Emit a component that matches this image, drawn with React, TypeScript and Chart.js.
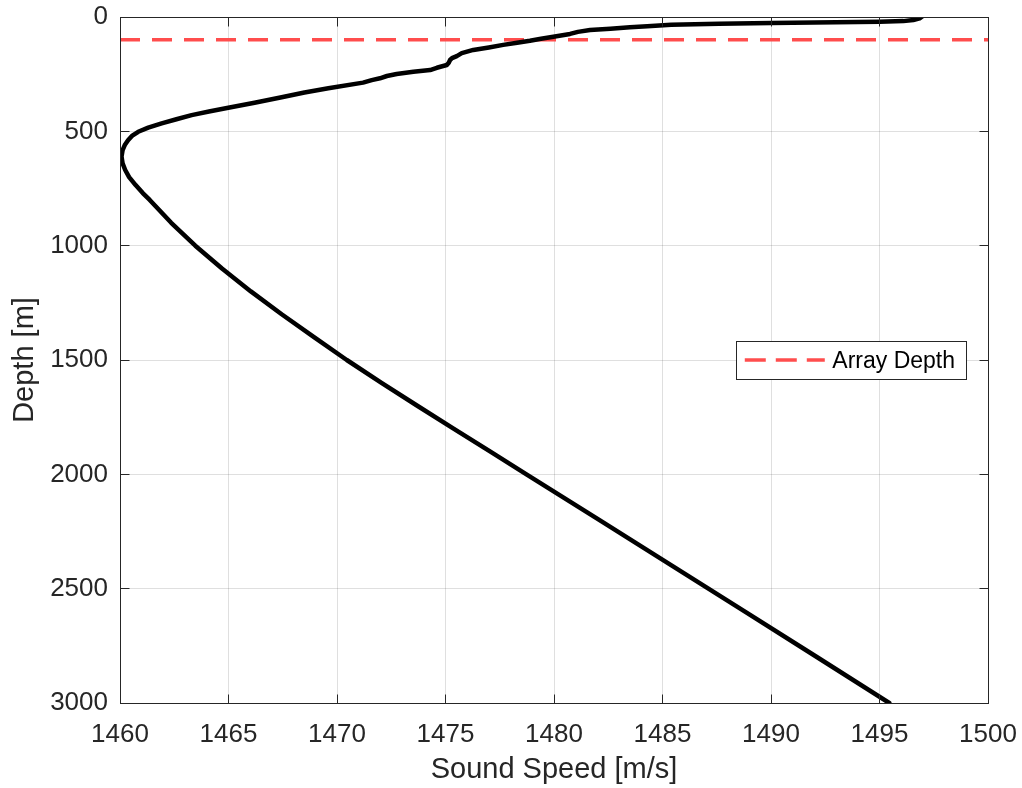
import React, { useEffect, useRef } from "react";
import { Chart, registerables } from "chart.js";

Chart.register(...registerables);

// ---- data ----
const depths = [
  0, 6, 13, 18, 21, 24, 26, 30, 34, 40, 45, 51, 57, 65, 74, 86, 95, 104, 113, 122,
  133, 144, 158, 171, 180, 188, 200, 210, 222, 232, 239, 249, 258, 268, 276, 287,
  312, 330, 351, 375, 397, 413, 429, 447, 465, 484, 502, 520, 538, 560, 582, 611,
  640, 669, 700, 735, 770, 800, 900, 1000, 1100, 1200, 1300, 1400, 1500, 1600, 1700,
  1800, 1900, 2000, 2200, 2400, 2600, 2800, 3000,
];
const soundSpeeds = [
  1496.94, 1496.85, 1496.56, 1496.1, 1495.0, 1492.0, 1490.0, 1487.6, 1485.4, 1484.3,
  1483.5, 1482.6, 1481.66, 1481.1, 1480.74, 1479.97, 1479.4, 1478.89, 1478.3, 1477.66,
  1477.0, 1476.28, 1475.75, 1475.52, 1475.3, 1475.21, 1475.15, 1475.06, 1474.6, 1474.29,
  1473.52, 1472.75, 1472.3, 1471.98, 1471.6, 1471.2, 1469.6, 1468.5, 1467.45, 1466.2,
  1464.99, 1464.1, 1463.3, 1462.6, 1461.92, 1461.3, 1460.84, 1460.55, 1460.38, 1460.22,
  1460.12, 1460.07, 1460.12, 1460.24, 1460.42, 1460.72, 1461.05, 1461.37, 1462.36, 1463.47,
  1464.7, 1466.03, 1467.45, 1468.94, 1470.45, 1472.05, 1473.7, 1475.37, 1477.05, 1478.73,
  1482.1, 1485.45, 1488.8, 1492.13, 1495.45,
];
const arrayDepth = 100;
const arraySpan = [1460, 1500];
const xTickValues = [1460, 1465, 1470, 1475, 1480, 1485, 1490, 1495, 1500];
const yTickValues = [0, 500, 1000, 1500, 2000, 2500, 3000];
const xTitle = "Sound Speed [m/s]";
const yTitle = "Depth [m]";
const profileLabel = "Sound Speed Profile";
const arrayLabel = "Array Depth";

// ---- styles ----
const FONT = "'Liberation Sans', Arial, Helvetica, sans-serif";
const AXIS = "#262626";
const GRID = "rgba(38,38,38,0.15)";
const RED = "#ff4d4d";
const TICK_LEN = 9;

const al = (p: number) => Math.round(p - 0.5) + 0.5;

const noPad = (s: any) => {
  s.paddingTop = 0;
  s.paddingBottom = 0;
  s.paddingLeft = 0;
  s.paddingRight = 0;
};

const boxPlugin = {
  id: "matlabBox",
  afterDatasetsDraw(chart: any) {
    const { ctx, chartArea, scales } = chart;
    const L = al(chartArea.left);
    const R = al(chartArea.right);
    const T = al(chartArea.top);
    const B = al(chartArea.bottom);
    ctx.save();
    ctx.strokeStyle = AXIS;
    ctx.lineWidth = 1;
    ctx.setLineDash([]);
    ctx.beginPath();
    scales.x.ticks.forEach((t: any) => {
      const px = al(scales.x.getPixelForValue(t.value));
      ctx.moveTo(px, B);
      ctx.lineTo(px, B - TICK_LEN);
      ctx.moveTo(px, T);
      ctx.lineTo(px, T + TICK_LEN);
    });
    scales.y.ticks.forEach((t: any) => {
      const py = al(scales.y.getPixelForValue(t.value));
      ctx.moveTo(L, py);
      ctx.lineTo(L + TICK_LEN, py);
      ctx.moveTo(R, py);
      ctx.lineTo(R - TICK_LEN, py);
    });
    ctx.stroke();
    ctx.strokeRect(L, T, R - L, B - T);
    ctx.restore();
  },
};

const legendPlugin = {
  id: "insideLegend",
  afterDraw(chart: any) {
    const { ctx, chartArea } = chart;
    const ds = chart.data.datasets[1];
    ctx.save();
    ctx.font = `23px ${FONT}`;
    const tw = ctx.measureText(ds.label).width;
    const padL = 8.5;
    const sample = 80;
    const gap = 7.5;
    const padR = 11;
    const w = padL + sample + gap + tw + padR;
    const h = 38;
    const right = chartArea.right - 22;
    const cy = (chartArea.top + chartArea.bottom) / 2;
    const x0 = right - w;
    const y0 = cy - h / 2;
    ctx.fillStyle = "#ffffff";
    ctx.fillRect(x0, y0, w, h);
    ctx.strokeStyle = AXIS;
    ctx.lineWidth = 1;
    ctx.strokeRect(al(x0), al(y0), Math.round(w), Math.round(h));
    ctx.strokeStyle = ds.borderColor;
    ctx.lineWidth = ds.borderWidth;
    ctx.setLineDash([21, 10]);
    ctx.beginPath();
    ctx.moveTo(x0 + padL, cy);
    ctx.lineTo(x0 + padL + sample, cy);
    ctx.stroke();
    ctx.setLineDash([]);
    ctx.fillStyle = "#000000";
    ctx.textAlign = "left";
    ctx.textBaseline = "middle";
    ctx.fillText(ds.label, x0 + padL + sample + gap, cy + 2);
    ctx.restore();
  },
};

export default function App() {
  const canvasRef = useRef<HTMLCanvasElement | null>(null);

  useEffect(() => {
    const canvas = canvasRef.current;
    if (!canvas) return;
    const profile = depths.map((d, i) => ({ x: soundSpeeds[i], y: d }));
    const arrayLine = arraySpan.map((x) => ({ x, y: arrayDepth }));

    const chart = new Chart(canvas, {
      type: "scatter",
      data: {
        datasets: [
          {
            label: profileLabel,
            data: profile,
            showLine: true,
            borderColor: "#000000",
            backgroundColor: "#000000",
            borderWidth: 4.5,
            pointRadius: 0,
            borderJoinStyle: "round",
            borderCapStyle: "round",
            tension: 0,
          },
          {
            label: arrayLabel,
            data: arrayLine,
            showLine: true,
            borderColor: RED,
            backgroundColor: RED,
            borderWidth: 3.5,
            borderDash: [20, 12],
            pointRadius: 0,
          },
        ],
      },
      options: {
        responsive: false,
        animation: false,
        devicePixelRatio: 1,
        layout: { padding: { top: 17, right: 34, bottom: 0, left: 0 } },
        plugins: {
          legend: { display: false },
          tooltip: { enabled: false },
        },
        events: [],
        scales: {
          x: {
            type: "linear",
            min: arraySpan[0],
            max: arraySpan[1],
            afterBuildTicks: (s: any) => {
              s.ticks = xTickValues.map((v) => ({ value: v }));
            },
            afterFit: (s: any) => {
              s.height = 85;
              noPad(s);
            },
            ticks: {
              color: AXIS,
              font: { family: FONT, size: 26 },
              padding: 16,
              maxRotation: 0,
              autoSkip: false,
              callback: (v: any) => String(v),
            },
            grid: { color: GRID, lineWidth: 1, drawTicks: false },
            border: { display: false },
            title: {
              display: true,
              text: xTitle,
              color: AXIS,
              font: { family: FONT, size: 29 },
              padding: { top: 0, bottom: 1 },
            },
          },
          y: {
            type: "linear",
            reverse: true,
            min: yTickValues[0],
            max: yTickValues[yTickValues.length - 1],
            afterBuildTicks: (s: any) => {
              s.ticks = yTickValues.map((v) => ({ value: v }));
            },
            afterFit: (s: any) => {
              s.width = 120;
              noPad(s);
            },
            ticks: {
              color: AXIS,
              font: { family: FONT, size: 26 },
              padding: 12,
              autoSkip: false,
              callback: (v: any) => String(v),
            },
            grid: { color: GRID, lineWidth: 1, drawTicks: false },
            border: { display: false },
            title: {
              display: true,
              text: yTitle,
              color: AXIS,
              font: { family: FONT, size: 29 },
              padding: { top: 8, bottom: 0 },
            },
          },
        },
      },
      plugins: [boxPlugin, legendPlugin],
    } as any);

    return () => chart.destroy();
  }, []);

  return (
    <div style={{ position: "fixed", left: 0, top: 0, width: 1022, height: 788, background: "#ffffff" }}>
      <canvas ref={canvasRef} width={1022} height={788} style={{ width: 1022, height: 788, display: "block" }} />
    </div>
  );
}
